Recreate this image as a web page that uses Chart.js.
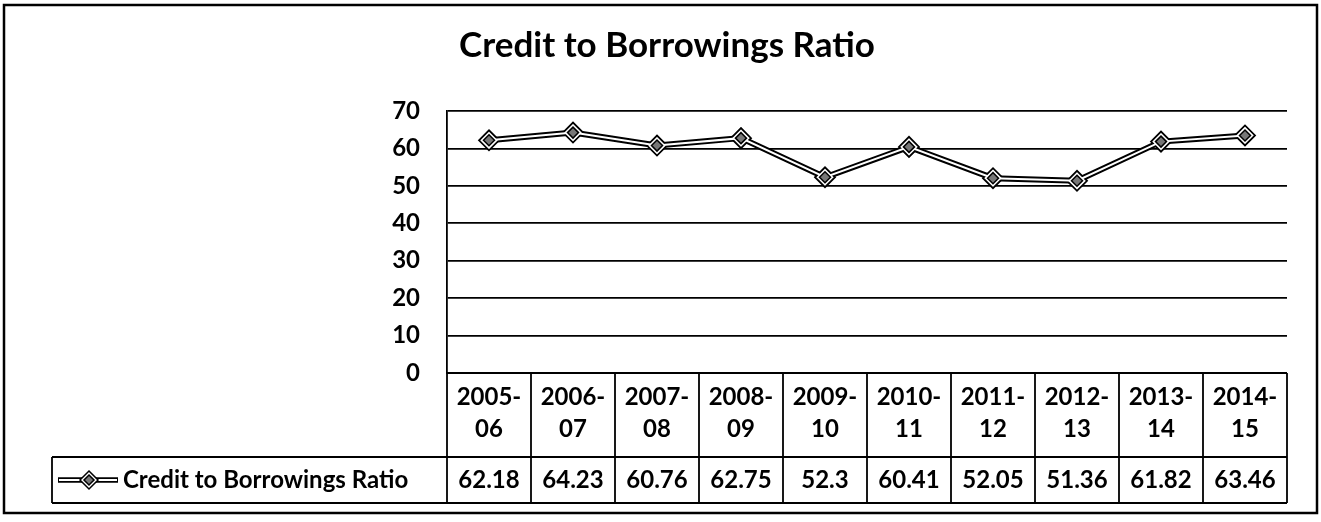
<!DOCTYPE html>
<html>
<head>
<meta charset="utf-8">
<title>Credit to Borrowings Ratio</title>
<script src="https://cdn.jsdelivr.net/npm/chart.js@4.4.1/dist/chart.umd.min.js"></script>
<style>
  html, body { margin: 0; padding: 0; background: #fff; }
  #box { width: 1321px; height: 522px; }
</style>
</head>
<body>
<div id="box"><canvas id="grafico"></canvas></div>
<script>
const anos = ['2005-06', '2006-07', '2007-08', '2008-09', '2009-10', '2010-11', '2011-12', '2012-13', '2013-14', '2014-15']
const ratio = [62.18, 64.23, 60.76, 62.75, 52.3, 60.41, 52.05, 51.36, 61.82, 63.46]
const serie = 'Credit to Borrowings Ratio'
const ticksY = [0, 10, 20, 30, 40, 50, 60, 70]

const fonte = 'Lato, "DejaVu Sans", sans-serif'

// losango (usado na chave da legenda da tabela)
function losango(ctx, cx, cy, r) {
    ctx.beginPath()
    ctx.moveTo(cx, cy - r); ctx.lineTo(cx + r, cy); ctx.lineTo(cx, cy + r); ctx.lineTo(cx - r, cy); ctx.closePath()
}

// moldura externa + tabela de dados embaixo do gráfico
const tabela = {
    id: 'tabela',
    afterDraw(chart) {
        const { ctx, chartArea: a } = chart
        const n = anos.length
        const w = (a.right - a.left) / n
        const topo = a.bottom
        const meio = topo + 84
        const base = meio + 46
        const esq = 52

        ctx.save()
        ctx.strokeStyle = '#000'
        ctx.lineWidth = 1.8

        // linhas horizontais
        ctx.beginPath()
        ctx.moveTo(a.left, topo); ctx.lineTo(a.right, topo)
        ctx.moveTo(esq, meio); ctx.lineTo(a.right, meio)
        ctx.moveTo(esq, base); ctx.lineTo(a.right, base)
        // linhas verticais
        for (let i = 0; i <= n; i++) {
            const xx = a.left + i * w
            ctx.moveTo(xx, topo); ctx.lineTo(xx, base)
        }
        ctx.moveTo(esq, meio); ctx.lineTo(esq, base)
        ctx.stroke()

        ctx.fillStyle = '#000'
        ctx.font = 'bold 24px ' + fonte
        ctx.textAlign = 'center'
        ctx.textBaseline = 'middle'
        const ly = meio + 23
        anos.forEach((ano, i) => {
            const cx = chart.scales.x.getPixelForValue(i)
            const p = ano.indexOf('-')
            ctx.fillText(ano.slice(0, p + 1), cx, topo + 24)
            ctx.fillText(ano.slice(p + 1), cx, topo + 56)
            ctx.fillText(String(ratio[i]), cx, ly)
        })

        // chave da legenda
        ctx.lineWidth = 5.5
        ctx.beginPath(); ctx.moveTo(58, ly); ctx.lineTo(118, ly); ctx.stroke()
        ctx.strokeStyle = '#fff'
        ctx.lineWidth = 2
        ctx.beginPath(); ctx.moveTo(59, ly); ctx.lineTo(117, ly); ctx.stroke()
        ctx.strokeStyle = '#000'
        ctx.lineWidth = 1.5
        losango(ctx, 89, ly, 9); ctx.fillStyle = '#fff'; ctx.fill(); ctx.stroke()
        losango(ctx, 89, ly, 5); ctx.fillStyle = '#777'; ctx.fill(); ctx.stroke()

        ctx.fillStyle = '#000'
        ctx.textAlign = 'left'
        ctx.font = 'bold 24px ' + fonte
        ctx.fillText(serie, 123, ly)

        // moldura
        ctx.lineWidth = 2.5
        ctx.strokeRect(4, 5, 1313, 508)
        ctx.restore()
    }
}

new Chart(document.getElementById('grafico'), {
    type: 'line',
    data: {
        labels: anos,
        datasets: [
            {
                label: serie,
                data: ratio,
                order: 1,
                borderColor: '#fff',
                borderWidth: 2,
                pointStyle: 'rectRot',
                pointRadius: 5.5,
                pointBackgroundColor: '#777',
                pointBorderColor: '#000',
                pointBorderWidth: 1.5,
                tension: 0
            },
            {
                label: serie,
                data: ratio,
                order: 2,
                borderColor: '#000',
                borderWidth: 6,
                pointStyle: 'rectRot',
                pointRadius: 10,
                pointBackgroundColor: '#fff',
                pointBorderColor: '#000',
                pointBorderWidth: 1.8,
                tension: 0
            }
        ]
    },
    options: {
        responsive: true,
        maintainAspectRatio: false,
        animation: false,
        layout: {
            padding: { left: 47, right: 34, top: 0, bottom: 149 }
        },
        scales: {
            x: {
                display: false,
                offset: true
            },
            y: {
                min: 0,
                max: 70,
                afterBuildTicks: (s) => { s.ticks = ticksY.map(v => ({ value: v })) },
                afterFit: (s) => { s.width = 400 },
                border: { display: true, color: '#000', width: 1.8 },
                grid: { color: '#000', lineWidth: 1.8, drawTicks: false },
                ticks: {
                    color: '#000',
                    padding: 27,
                    font: { family: fonte, size: 24, weight: 'bold' }
                }
            }
        },
        plugins: {
            legend: { display: false },
            tooltip: { enabled: false },
            title: {
                display: true,
                text: serie,
                color: '#000',
                font: { family: fonte, size: 35, weight: 'bold' },
                padding: { top: 25, bottom: 44 }
            }
        }
    },
    plugins: [tabela]
})
</script>
</body>
</html>
